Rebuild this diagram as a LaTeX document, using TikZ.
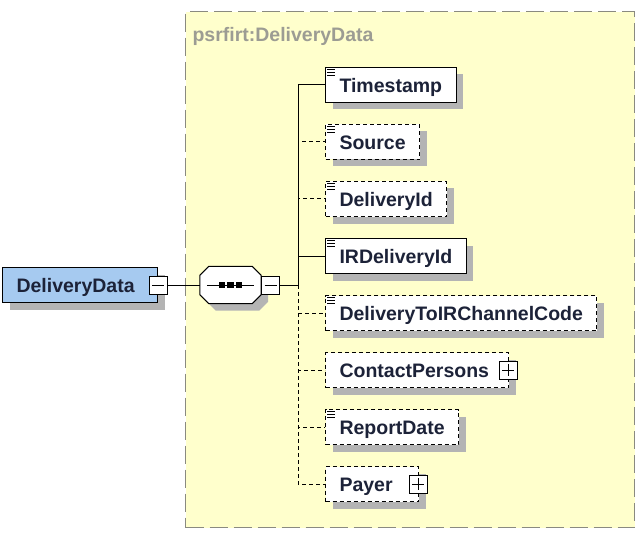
\documentclass[tikz,border=0pt]{standalone}
\usepackage{fontspec}
\setmainfont{Liberation Sans}
\usepackage{xcolor}
\usetikzlibrary{shapes,shadows,positioning,calc}
\definecolor{groupfill}{HTML}{FFFFCC}
\definecolor{groupline}{HTML}{8A8A80}
\definecolor{rootfill}{HTML}{A6CAF0}
\definecolor{elemtext}{HTML}{1C2238}
\definecolor{shadowgray}{HTML}{B4B4B4}
\newcommand{\elemfont}{\bfseries\fontsize{19.5}{22}\selectfont}
\newcommand{\docmark}[1]{%
  \foreach \dy in {2.5,5.5,8.5}
    \draw[line width=1.3pt] ($(#1.north west)+(2,\dy)$) -- ++(8,0);}

\begin{document}
\begin{tikzpicture}[
    x=1pt, y=-1pt,
    shadowed/.style={drop shadow={shadow xshift=7pt, shadow yshift=-7pt, fill=shadowgray, opacity=1}},
    elem/.style={rectangle, draw=black, line width=1pt, fill=white, minimum height=35pt, inner xsep=14pt, text height=15pt, text depth=0pt, font=\elemfont, text=elemtext, anchor=west, shadowed},
    optelem/.style={elem, dash pattern=on 4pt off 3pt},
    expbox/.style={rectangle, draw=black, line width=1pt, fill=white, minimum size=18pt, inner sep=0pt},
    minusbox/.style={expbox, path picture={\draw[line width=1pt] ([xshift=3pt]path picture bounding box.west) -- ([xshift=-3pt]path picture bounding box.east);}},
    plusbox/.style={expbox, path picture={\draw[line width=1pt] ([xshift=3pt]path picture bounding box.west) -- ([xshift=-3pt]path picture bounding box.east) ([yshift=-3pt]path picture bounding box.north) -- ([yshift=3pt]path picture bounding box.south);}},
    link/.style={draw=black, line width=1pt},
    optlink/.style={link, dash pattern=on 4pt off 3pt}
]
    \useasboundingbox (0,0) rectangle (644,537);

    % Complex type group
    \node[draw=groupline, fill=groupfill, line width=1.3pt, dash pattern=on 18pt off 6pt, minimum width=449pt, minimum height=516pt, anchor=north west, inner sep=0pt] (group) at (185,11) {};
    \node[anchor=base west, font=\elemfont, text=groupline!85] (grouptitle) at (189,42) {psrfirt:DeliveryData};

    % Root element
    \node[elem, fill=rootfill, text width=127pt, align=left] (root) at (2,285) {DeliveryData};
    \node[minusbox] (rootm) at (root.east) {};

    % Sequence compositor
    \node[minimum width=61pt, minimum height=37pt, inner sep=0pt] (seq) at (230.5,285) {};
    \draw[line width=1pt, fill=white, shadowed] ([xshift=9pt]seq.north west) -- ([xshift=-9pt]seq.north east) -- ([yshift=-9pt]seq.north east) -- ([yshift=9pt]seq.south east) -- ([xshift=-9pt]seq.south east) -- ([xshift=9pt]seq.south west) -- ([yshift=9pt]seq.south west) -- ([yshift=-9pt]seq.north west) -- cycle;
    \draw[line width=1pt] ([xshift=7pt]seq.west) -- ([xshift=-7pt]seq.east);
    \foreach \dx in {-8.5,0,8.5}
        \fill ($(seq.center)+(\dx,0)$) +(-3.25,-3.25) rectangle +(3.25,3.25);
    \node[minusbox, anchor=west] (seqm) at (seq.east) {};
    \coordinate (trunk) at (298,285);

    \draw[link] (rootm) -- (seq);
    \draw[link] (seqm) -- (trunk);

    % Child elements
    \node[elem] (ts) at (325,85) {Timestamp};
    \node[optelem] (src) at (325,142) {Source};
    \node[optelem] (did) at (325,199) {DeliveryId};
    \node[elem] (ird) at (325,256) {IRDeliveryId};
    \node[optelem] (chan) at (325,313) {DeliveryToIRChannelCode};
    \node[optelem, text width=155pt, align=left] (cp) at (325,370) {ContactPersons};
    \node[optelem] (rd) at (325,427) {ReportDate};
    \node[optelem, text width=65pt, align=left] (pay) at (325,484) {Payer};

    \node[plusbox] (cpx) at ([xshift=-1pt]cp.east) {};
    \node[plusbox] (payx) at ([xshift=-1pt]pay.east) {};

    \docmark{ts}
    \docmark{src}
    \docmark{did}
    \docmark{ird}
    \docmark{chan}
    \docmark{rd}

    % Connectors
    \draw[link] (trunk) |- (ts.west);
    \draw[link] (trunk) |- (ird.west);
    \draw[optlink] (trunk) |- (src.west);
    \draw[optlink] (trunk) |- (did.west);
    \draw[optlink] (trunk) |- (chan.west);
    \draw[optlink] (trunk) |- (cp.west);
    \draw[optlink] (trunk) |- (rd.west);
    \draw[optlink] (trunk) |- (pay.west);
\end{tikzpicture}
\end{document}
